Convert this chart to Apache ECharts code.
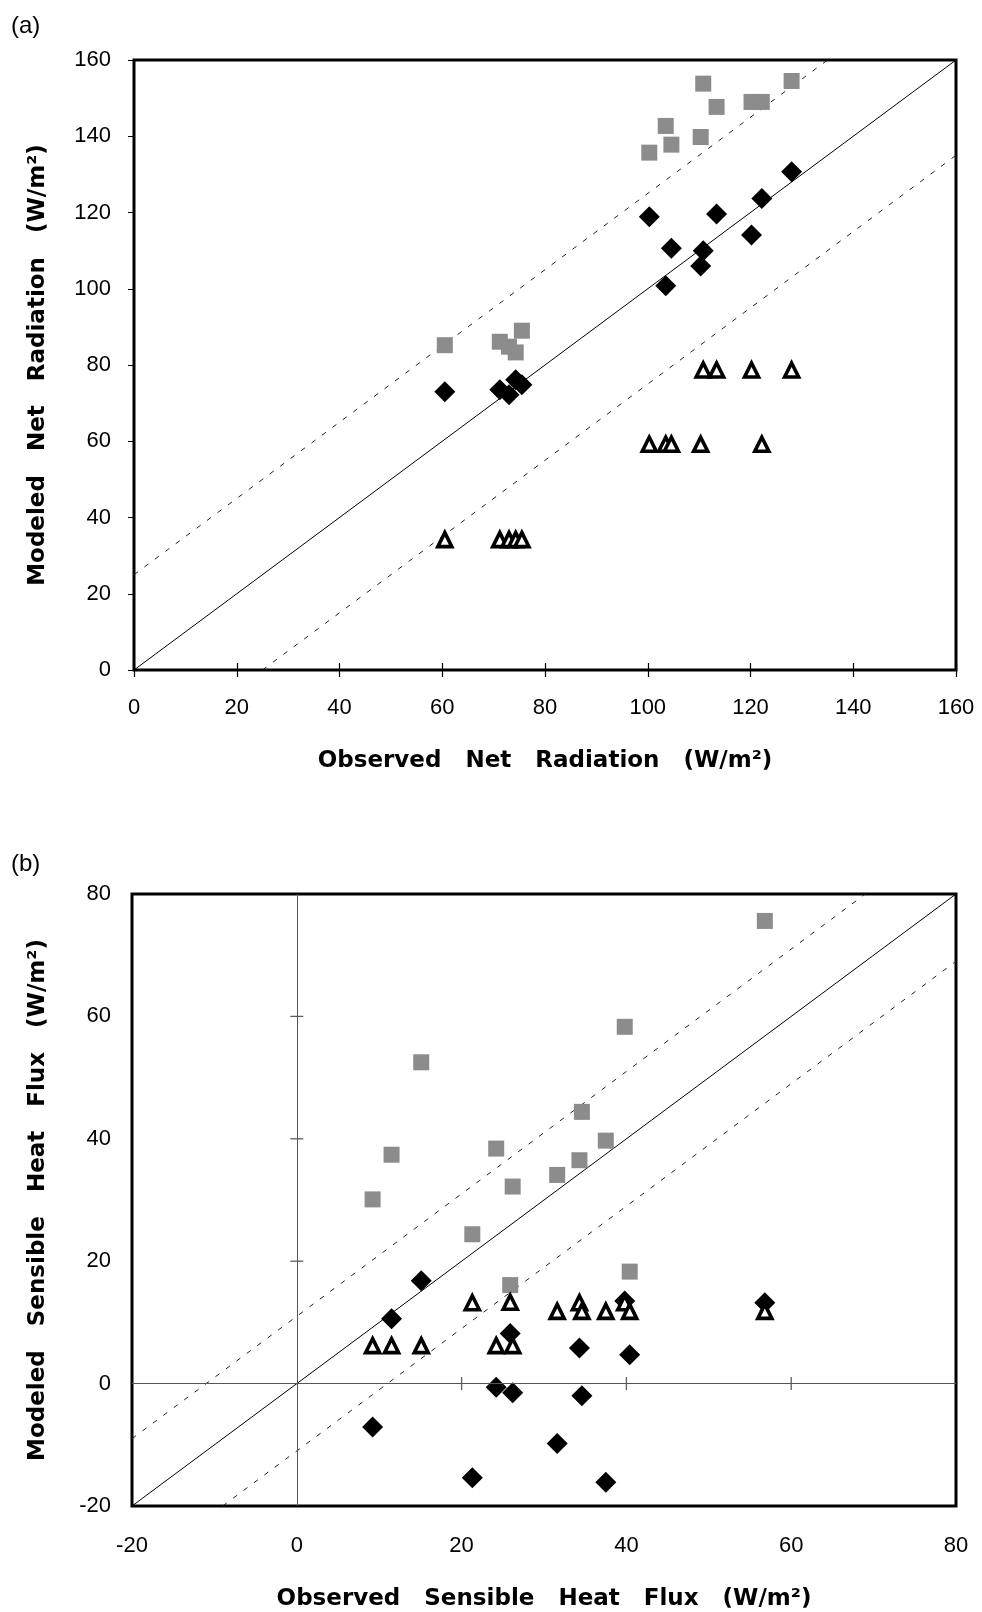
<!DOCTYPE html>
<html>
<head>
<meta charset="utf-8">
<script src="https://cdn.jsdelivr.net/npm/echarts@6/dist/echarts.min.js"></script>
<style>
html,body{margin:0;padding:0;background:#fff;}
#chart{width:982px;height:1612px;}
</style>
</head>
<body>
<div id="chart"></div>
<script>
// ---------- Panel (a): Net radiation ----------
const obsA = [60.5, 71.2, 73.0, 74.3, 75.5, 100.3, 103.5, 104.6, 110.3, 110.8, 113.4, 120.2, 122.2, 128.0];
const sqA  = [85.2, 86.1, 84.8, 83.3, 89.0, 135.7, 142.7, 137.8, 139.8, 153.8, 147.7, 149.0, 149.0, 154.5];
const diaA = [73.0, 73.5, 72.2, 76.1, 74.8, 118.9, 100.8, 110.6, 106.0, 110.0, 119.6, 114.1, 123.7, 130.7];
const triA = [34.2, 34.2, 34.2, 34.2, 34.2, 59.2, 59.2, 59.2, 59.2, 78.7, 78.7, 78.7, 59.2, 78.7];
const oneToOneA = [[0, 0], [160, 160]];
const upperA = [[0, 25], [135, 160]];
const lowerA = [[25, 0], [160, 135]];

// ---------- Panel (b): Sensible heat flux ----------
const obsB = [9.2, 11.5, 15.1, 21.3, 24.2, 25.9, 26.2, 31.6, 34.3, 34.6, 37.5, 39.8, 40.4, 56.8];
const sqB  = [30.1, 37.4, 52.5, 24.4, 38.4, 16.1, 32.2, 34.1, 36.5, 44.4, 39.7, 58.3, 18.3, 75.6];
const diaB = [-7.1, 10.6, 16.8, -15.4, -0.6, 8.2, -1.5, -9.8, 5.8, -2.0, -16.1, 13.5, 4.7, 13.2];
const triB = [6.2, 6.2, 6.2, 13.2, 6.2, 13.3, 6.2, 11.8, 13.2, 11.8, 11.8, 13.2, 11.8, 11.8];
const oneToOneB = [[-20, -20], [80, 80]];
const upperB = [[-20, -9], [69, 80]];
const lowerB = [[-9, -20], [80, 69]];
const innerTicksB = [20, 40, 60];

const zip = (xs, ys) => xs.map((x, i) => [x, ys[i]]);

const tickFont = { fontSize: 22, color: '#000', fontFamily: 'Liberation Sans' };
const nameFont = { fontSize: 23, fontWeight: 'bold', color: '#000', fontFamily: 'DejaVu Sans' };

function refLines(one, up, lo, xi, yi) {
  return [
    { type: 'line', xAxisIndex: xi, yAxisIndex: yi, data: one, showSymbol: false, silent: true,
      lineStyle: { color: '#000', width: 1 }, z: 1 },
    { type: 'line', xAxisIndex: xi, yAxisIndex: yi, data: up, showSymbol: false, silent: true,
      lineStyle: { color: '#222', width: 1, type: [5, 8] }, z: 1 },
    { type: 'line', xAxisIndex: xi, yAxisIndex: yi, data: lo, showSymbol: false, silent: true,
      lineStyle: { color: '#222', width: 1, type: [5, 8] }, z: 1 }
  ];
}
function markers(obs, sq, dia, tri, xi, yi) {
  return [
    { type: 'scatter', xAxisIndex: xi, yAxisIndex: yi, data: zip(obs, sq), symbol: 'rect', symbolSize: 16,
      itemStyle: { color: '#8c8c8c', opacity: 1 }, z: 3 },
    { type: 'scatter', xAxisIndex: xi, yAxisIndex: yi, data: zip(obs, dia), symbol: 'diamond', symbolSize: 21,
      itemStyle: { color: '#000', opacity: 1 }, z: 4 },
    { type: 'scatter', xAxisIndex: xi, yAxisIndex: yi, data: zip(obs, tri), symbol: 'triangle', symbolSize: [14, 14],
      itemStyle: { color: '#fff', borderColor: '#000', borderWidth: 3.6, opacity: 1 }, z: 5 }
  ];
}

const chart = echarts.init(document.getElementById('chart'), null, { renderer: 'canvas' });
chart.setOption({
  animation: false,
  backgroundColor: '#fff',
  title: [
    { text: '(a)', left: 6, top: 9, textStyle: { fontSize: 24, fontWeight: 'normal', color: '#000', fontFamily: 'Liberation Sans' } },
    { text: '(b)', left: 6, top: 847, textStyle: { fontSize: 24, fontWeight: 'normal', color: '#000', fontFamily: 'Liberation Sans' } }
  ],
  grid: [
    { left: 134, right: 26, top: 60, height: 610, show: true, borderColor: '#000', borderWidth: 3, backgroundColor: 'transparent' },
    { left: 132, right: 26, top: 894, height: 612, show: true, borderColor: '#000', borderWidth: 3, backgroundColor: 'transparent' }
  ],
  xAxis: [
    { gridIndex: 0, type: 'value', min: 0, max: 160, interval: 20, position: 'bottom',
      axisLine: { show: false }, splitLine: { show: false },
      axisTick: { show: true, inside: false, length: 7, lineStyle: { color: '#000', width: 1.2 } },
      axisLabel: Object.assign({ margin: 27 }, tickFont),
      name: 'Observed   Net   Radiation   (W/m²)', nameLocation: 'middle', nameGap: 80, nameTextStyle: nameFont },
    { gridIndex: 0, type: 'value', min: 0, max: 160, interval: 20, position: 'bottom',
      axisLine: { show: false }, splitLine: { show: false }, axisLabel: { show: false },
      axisTick: { show: true, inside: true, length: 7, lineStyle: { color: '#000', width: 1.2 } } },
    { gridIndex: 1, type: 'value', min: -20, max: 80, interval: 20, position: 'bottom',
      axisLine: { show: false, onZero: false }, splitLine: { show: false }, axisTick: { show: false },
      axisLabel: Object.assign({ margin: 29 }, tickFont),
      name: 'Observed   Sensible   Heat   Flux   (W/m²)', nameLocation: 'middle', nameGap: 82, nameTextStyle: nameFont }
  ],
  yAxis: [
    { gridIndex: 0, type: 'value', min: 0, max: 160, interval: 20,
      axisLine: { show: false }, splitLine: { show: false },
      axisTick: { show: true, inside: false, length: 6, lineStyle: { color: '#000', width: 1 } },
      axisLabel: Object.assign({ margin: 23 }, tickFont),
      name: 'Modeled   Net   Radiation   (W/m²)', nameLocation: 'middle', nameGap: 84, nameTextStyle: nameFont },
    { gridIndex: 1, type: 'value', min: -20, max: 80, interval: 20,
      axisLine: { show: false, onZero: false }, splitLine: { show: false }, axisTick: { show: false },
      axisLabel: Object.assign({ margin: 21 }, tickFont),
      name: 'Modeled   Sensible   Heat   Flux   (W/m²)', nameLocation: 'middle', nameGap: 82, nameTextStyle: nameFont }
  ],
  series: [
    ...refLines(oneToOneA, upperA, lowerA, 0, 0),
    ...markers(obsA, sqA, diaA, triA, 0, 0),
    // inner zero axes of panel (b)
    { type: 'line', xAxisIndex: 2, yAxisIndex: 1, data: [], silent: true,
      markLine: { symbol: 'none', silent: true, label: { show: false },
        lineStyle: { color: '#555', width: 1, type: 'solid' },
        data: [{ xAxis: 0 }, { yAxis: 0 }] }, z: 1 },
    { type: 'scatter', xAxisIndex: 2, yAxisIndex: 1, silent: true, data: innerTicksB.map(v => [v, 0]),
      symbol: 'rect', symbolSize: [1.3, 13], itemStyle: { color: '#333' }, z: 2 },
    { type: 'scatter', xAxisIndex: 2, yAxisIndex: 1, silent: true, data: innerTicksB.map(v => [0, v]),
      symbol: 'rect', symbolSize: [13, 1.3], itemStyle: { color: '#333' }, z: 2 },
    ...refLines(oneToOneB, upperB, lowerB, 2, 1),
    ...markers(obsB, sqB, diaB, triB, 2, 1)
  ]
});
</script>
</body>
</html>
